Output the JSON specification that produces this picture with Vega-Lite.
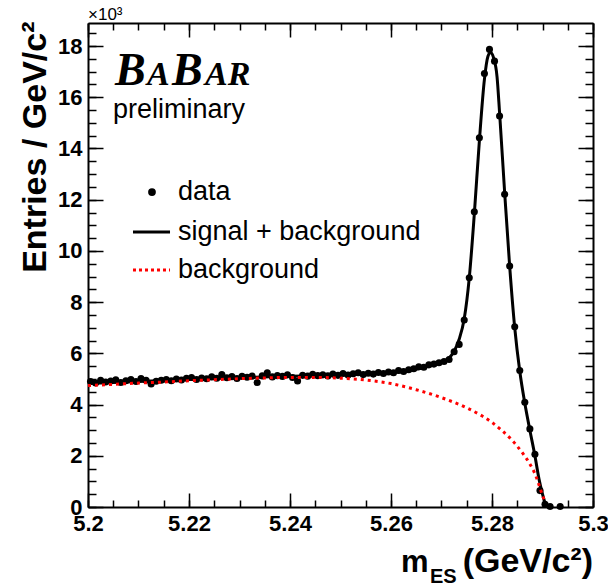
{
  "$schema": "https://vega.github.io/schema/vega-lite/v6.json",
  "width": 505,
  "height": 484,
  "autosize": "none",
  "padding": {"left": 88, "top": 23, "right": 15, "bottom": 81},
  "background": "white",
  "config": {
    "view": {"stroke": null},
    "axis": {"grid": false, "tickColor": "black", "domainColor": "black", "labelColor": "black", "titleColor": "black"}
  },
  "datasets": {
    "points": [
      {"m": 5.2005, "n": 4.90}, {"m": 5.2015, "n": 4.84}, {"m": 5.2025, "n": 4.95}, {"m": 5.2035, "n": 4.88},
      {"m": 5.2045, "n": 4.92}, {"m": 5.2055, "n": 4.97}, {"m": 5.2065, "n": 4.86}, {"m": 5.2075, "n": 4.93},
      {"m": 5.2085, "n": 4.98}, {"m": 5.2095, "n": 4.90}, {"m": 5.2105, "n": 5.02}, {"m": 5.2115, "n": 4.95},
      {"m": 5.2125, "n": 4.80}, {"m": 5.2135, "n": 4.91}, {"m": 5.2145, "n": 4.95}, {"m": 5.2155, "n": 4.98},
      {"m": 5.2165, "n": 4.93}, {"m": 5.2175, "n": 5.00}, {"m": 5.2185, "n": 4.96}, {"m": 5.2195, "n": 5.03},
      {"m": 5.2205, "n": 5.06}, {"m": 5.2215, "n": 4.98}, {"m": 5.2225, "n": 5.04}, {"m": 5.2235, "n": 5.01},
      {"m": 5.2245, "n": 5.08}, {"m": 5.2255, "n": 5.03}, {"m": 5.2265, "n": 5.17}, {"m": 5.2275, "n": 5.05},
      {"m": 5.2285, "n": 5.09}, {"m": 5.2295, "n": 5.02}, {"m": 5.2305, "n": 5.10}, {"m": 5.2315, "n": 5.07},
      {"m": 5.2325, "n": 5.11}, {"m": 5.2335, "n": 4.86}, {"m": 5.2345, "n": 5.12}, {"m": 5.2355, "n": 5.24},
      {"m": 5.2365, "n": 5.08}, {"m": 5.2375, "n": 5.13}, {"m": 5.2385, "n": 5.10}, {"m": 5.2395, "n": 5.16},
      {"m": 5.2405, "n": 5.06}, {"m": 5.2415, "n": 4.92}, {"m": 5.2425, "n": 5.14}, {"m": 5.2435, "n": 5.11},
      {"m": 5.2445, "n": 5.18}, {"m": 5.2455, "n": 5.13}, {"m": 5.2465, "n": 5.16}, {"m": 5.2475, "n": 5.12},
      {"m": 5.2485, "n": 5.19}, {"m": 5.2495, "n": 5.14}, {"m": 5.2505, "n": 5.21}, {"m": 5.2515, "n": 5.15},
      {"m": 5.2525, "n": 5.20}, {"m": 5.2535, "n": 5.24}, {"m": 5.2545, "n": 5.17}, {"m": 5.2555, "n": 5.22},
      {"m": 5.2565, "n": 5.19}, {"m": 5.2575, "n": 5.25}, {"m": 5.2585, "n": 5.21}, {"m": 5.2595, "n": 5.27},
      {"m": 5.2605, "n": 5.24}, {"m": 5.2615, "n": 5.33}, {"m": 5.2625, "n": 5.29}, {"m": 5.2635, "n": 5.36},
      {"m": 5.2645, "n": 5.40}, {"m": 5.2655, "n": 5.48}, {"m": 5.2665, "n": 5.46}, {"m": 5.2675, "n": 5.55},
      {"m": 5.2685, "n": 5.58}, {"m": 5.2695, "n": 5.63}, {"m": 5.2705, "n": 5.68}, {"m": 5.2715, "n": 5.76},
      {"m": 5.2725, "n": 6.06}, {"m": 5.2735, "n": 6.35}, {"m": 5.2745, "n": 7.30}, {"m": 5.2755, "n": 8.95},
      {"m": 5.2765, "n": 11.53}, {"m": 5.2775, "n": 14.42}, {"m": 5.2785, "n": 16.93}, {"m": 5.2795, "n": 17.87},
      {"m": 5.2805, "n": 17.41}, {"m": 5.2815, "n": 15.27}, {"m": 5.2825, "n": 12.21}, {"m": 5.2835, "n": 9.41},
      {"m": 5.2845, "n": 7.04}, {"m": 5.2855, "n": 5.33}, {"m": 5.2865, "n": 4.09}, {"m": 5.2875, "n": 3.05},
      {"m": 5.2885, "n": 2.06}, {"m": 5.2895, "n": 0.64}, {"m": 5.2905, "n": 0.11}, {"m": 5.2915, "n": 0.02},
      {"m": 5.2935, "n": 0.02}
    ],
    "fit": [
      {"m": 5.2000, "n": 4.82}, {"m": 5.2050, "n": 4.86}, {"m": 5.2100, "n": 4.90}, {"m": 5.2150, "n": 4.94},
      {"m": 5.2200, "n": 4.98}, {"m": 5.2250, "n": 5.02}, {"m": 5.2300, "n": 5.05}, {"m": 5.2350, "n": 5.08},
      {"m": 5.2400, "n": 5.11}, {"m": 5.2450, "n": 5.13}, {"m": 5.2500, "n": 5.16}, {"m": 5.2550, "n": 5.19},
      {"m": 5.2600, "n": 5.25}, {"m": 5.2630, "n": 5.31}, {"m": 5.2660, "n": 5.42}, {"m": 5.2680, "n": 5.52},
      {"m": 5.2700, "n": 5.65}, {"m": 5.2715, "n": 5.82}, {"m": 5.2725, "n": 6.08}, {"m": 5.2735, "n": 6.55},
      {"m": 5.2745, "n": 7.35}, {"m": 5.2755, "n": 8.95}, {"m": 5.2765, "n": 11.45}, {"m": 5.2775, "n": 14.3},
      {"m": 5.2785, "n": 16.7}, {"m": 5.2792, "n": 17.6}, {"m": 5.2797, "n": 17.75}, {"m": 5.2803, "n": 17.55},
      {"m": 5.2810, "n": 16.8}, {"m": 5.2815, "n": 15.4}, {"m": 5.2825, "n": 12.3}, {"m": 5.2835, "n": 9.4},
      {"m": 5.2845, "n": 7.0}, {"m": 5.2855, "n": 5.3}, {"m": 5.2865, "n": 4.05}, {"m": 5.2875, "n": 3.0},
      {"m": 5.2885, "n": 2.0}, {"m": 5.2893, "n": 1.1}, {"m": 5.2900, "n": 0.5}, {"m": 5.2905, "n": 0.15}
    ],
    "bkg": [
      {"m": 5.2000, "n": 4.74}, {"m": 5.2050, "n": 4.79}, {"m": 5.2100, "n": 4.84}, {"m": 5.2150, "n": 4.88},
      {"m": 5.2200, "n": 4.93}, {"m": 5.2250, "n": 4.97}, {"m": 5.2300, "n": 5.01}, {"m": 5.2350, "n": 5.04},
      {"m": 5.2400, "n": 5.06}, {"m": 5.2450, "n": 5.06}, {"m": 5.2500, "n": 5.03}, {"m": 5.2550, "n": 4.96},
      {"m": 5.2600, "n": 4.82}, {"m": 5.2650, "n": 4.58}, {"m": 5.2700, "n": 4.27}, {"m": 5.2750, "n": 3.87},
      {"m": 5.2780, "n": 3.56}, {"m": 5.2800, "n": 3.30}, {"m": 5.2820, "n": 2.98}, {"m": 5.2840, "n": 2.60},
      {"m": 5.2860, "n": 2.12}, {"m": 5.2875, "n": 1.68}, {"m": 5.2885, "n": 1.30}, {"m": 5.2895, "n": 0.75},
      {"m": 5.2900, "n": 0.45}, {"m": 5.2904, "n": 0.25}
    ],
    "expo": [{"t": "×10³", "m": 5.2, "n": 19.02}],
    "babarBig": [{"t": "B", "m": 5.20535, "n": 16.48}, {"t": "B", "m": 5.21663, "n": 16.48}],
    "babarSmall": [{"t": "A", "m": 5.21168, "n": 16.48}, {"t": "AR", "m": 5.22317, "n": 16.48}],
    "prelim": [{"t": "preliminary", "m": 5.20495, "n": 15.19}],
    "legendDot": [{"m": 5.21267, "n": 12.30}],
    "legendFit": [{"m": 5.20891, "m2": 5.21624, "n": 10.74}],
    "legendBkg": [{"m": 5.20891, "m2": 5.21624, "n": 9.25}],
    "legendText": [
      {"t": "data", "m": 5.21782, "n": 12.30},
      {"t": "signal + background", "m": 5.21782, "n": 10.74},
      {"t": "background", "m": 5.21782, "n": 9.25}
    ],
    "xtitleM": [{"t": "m", "m": 5.26198, "n": -2.53}],
    "xtitleUnit": [{"t": "(GeV/c²)", "m": 5.3, "n": -2.53}],
    "xtitleSub": [{"t": "ES", "m": 5.26772, "n": -2.98}]
  },
  "resolve": {"axis": {"x": "independent", "y": "independent"}},
  "layer": [
    {
      "data": {"name": "points"},
      "mark": {"type": "point", "filled": true, "size": 50, "opacity": 1, "color": "black"},
      "encoding": {
        "x": {
          "field": "m", "type": "quantitative",
          "scale": {"domain": [5.2, 5.3], "nice": false, "zero": false},
          "axis": {
            "orient": "bottom", "values": [5.2, 5.22, 5.24, 5.26, 5.28, 5.3], "format": "~g",
            "tickSize": -14, "tickWidth": 1.5, "domain": true, "domainWidth": 2,
            "labelFont": "Liberation Sans", "labelFontWeight": "bold", "labelFontSize": 22,
            "labelPadding": 20, "labelFlush": false, "labelOverlap": false, "title": null
          }
        },
        "y": {
          "field": "n", "type": "quantitative",
          "scale": {"domain": [0, 18.9], "nice": false, "zero": false},
          "axis": {
            "orient": "left", "values": [0, 2, 4, 6, 8, 10, 12, 14, 16, 18],
            "tickSize": -15, "tickWidth": 1.5, "domain": true, "domainWidth": 2,
            "labelFont": "Liberation Sans", "labelFontWeight": "bold", "labelFontSize": 22,
            "labelPadding": 21, "labelOverlap": false, "labelFlush": false,
            "title": "Entries / GeV/c²", "titleFont": "Liberation Sans", "titleFontWeight": "bold",
            "titleFontSize": 34, "titleAngle": -90, "titleAlign": "right", "titleBaseline": "alphabetic",
            "titleX": -43, "titleY": -2
          }
        }
      }
    },
    {
      "data": {"name": "fit"},
      "mark": {"type": "line", "strokeWidth": 3, "interpolate": "monotone", "color": "black"},
      "encoding": {
        "x": {
          "field": "m", "type": "quantitative",
          "scale": {"domain": [5.2, 5.3], "nice": false, "zero": false},
          "axis": {
            "orient": "bottom",
            "values": [5.2, 5.205, 5.21, 5.215, 5.22, 5.225, 5.23, 5.235, 5.24, 5.245, 5.25, 5.255, 5.26, 5.265, 5.27, 5.275, 5.28, 5.285, 5.29, 5.295, 5.3],
            "tickSize": -7, "tickWidth": 1.5, "domain": false, "labels": false, "title": null
          }
        },
        "y": {
          "field": "n", "type": "quantitative",
          "scale": {"domain": [0, 18.9], "nice": false, "zero": false},
          "axis": {
            "orient": "left",
            "values": [0, 0.5, 1, 1.5, 2, 2.5, 3, 3.5, 4, 4.5, 5, 5.5, 6, 6.5, 7, 7.5, 8, 8.5, 9, 9.5, 10, 10.5, 11, 11.5, 12, 12.5, 13, 13.5, 14, 14.5, 15, 15.5, 16, 16.5, 17, 17.5, 18, 18.5],
            "tickSize": -8, "tickWidth": 1.5, "domain": false, "labels": false, "title": null
          }
        }
      }
    },
    {
      "data": {"name": "bkg"},
      "mark": {"type": "line", "strokeWidth": 3, "strokeDash": [3, 4], "interpolate": "monotone", "color": "#ff0000"},
      "encoding": {
        "x": {
          "field": "m", "type": "quantitative",
          "scale": {"domain": [5.2, 5.3], "nice": false, "zero": false},
          "axis": {
            "orient": "top", "values": [5.2, 5.22, 5.24, 5.26, 5.28, 5.3],
            "tickSize": -14, "tickWidth": 1.5, "domain": true, "domainWidth": 2, "labels": false, "title": null
          }
        },
        "y": {
          "field": "n", "type": "quantitative",
          "scale": {"domain": [0, 18.9], "nice": false, "zero": false},
          "axis": {
            "orient": "right", "values": [0, 2, 4, 6, 8, 10, 12, 14, 16, 18],
            "tickSize": -15, "tickWidth": 1.5, "domain": true, "domainWidth": 2, "labels": false, "title": null
          }
        }
      }
    },
    {
      "data": {"name": "expo"},
      "mark": {"type": "text", "font": "Liberation Sans", "fontSize": 17, "align": "left", "baseline": "alphabetic", "color": "black"},
      "encoding": {
        "text": {"field": "t"},
        "x": {
          "field": "m", "type": "quantitative",
          "scale": {"domain": [5.2, 5.3], "nice": false, "zero": false},
          "axis": {
            "orient": "top",
            "values": [5.2, 5.205, 5.21, 5.215, 5.22, 5.225, 5.23, 5.235, 5.24, 5.245, 5.25, 5.255, 5.26, 5.265, 5.27, 5.275, 5.28, 5.285, 5.29, 5.295, 5.3],
            "tickSize": -7, "tickWidth": 1.5, "domain": false, "labels": false, "title": null
          }
        },
        "y": {
          "field": "n", "type": "quantitative",
          "scale": {"domain": [0, 18.9], "nice": false, "zero": false},
          "axis": {
            "orient": "right",
            "values": [0, 0.5, 1, 1.5, 2, 2.5, 3, 3.5, 4, 4.5, 5, 5.5, 6, 6.5, 7, 7.5, 8, 8.5, 9, 9.5, 10, 10.5, 11, 11.5, 12, 12.5, 13, 13.5, 14, 14.5, 15, 15.5, 16, 16.5, 17, 17.5, 18, 18.5],
            "tickSize": -8, "tickWidth": 1.5, "domain": false, "labels": false, "title": null
          }
        }
      }
    },
    {
      "data": {"name": "babarBig"},
      "mark": {"type": "text", "font": "Liberation Serif", "fontStyle": "italic", "fontWeight": "bold", "fontSize": 46, "align": "left", "baseline": "alphabetic", "color": "black"},
      "encoding": {
        "text": {"field": "t"},
        "x": {"field": "m", "type": "quantitative", "axis": null},
        "y": {"field": "n", "type": "quantitative", "axis": null}
      }
    },
    {
      "data": {"name": "babarSmall"},
      "mark": {"type": "text", "font": "Liberation Serif", "fontStyle": "italic", "fontWeight": "bold", "fontSize": 34, "align": "left", "baseline": "alphabetic", "color": "black"},
      "encoding": {
        "text": {"field": "t"},
        "x": {"field": "m", "type": "quantitative", "axis": null},
        "y": {"field": "n", "type": "quantitative", "axis": null}
      }
    },
    {
      "data": {"name": "prelim"},
      "mark": {"type": "text", "font": "Liberation Sans", "fontSize": 27, "align": "left", "baseline": "alphabetic", "color": "black"},
      "encoding": {
        "text": {"field": "t"},
        "x": {"field": "m", "type": "quantitative", "axis": null},
        "y": {"field": "n", "type": "quantitative", "axis": null}
      }
    },
    {
      "data": {"name": "legendDot"},
      "mark": {"type": "point", "filled": true, "size": 60, "opacity": 1, "color": "black"},
      "encoding": {
        "x": {"field": "m", "type": "quantitative", "axis": null},
        "y": {"field": "n", "type": "quantitative", "axis": null}
      }
    },
    {
      "data": {"name": "legendFit"},
      "mark": {"type": "rule", "strokeWidth": 3, "color": "black"},
      "encoding": {
        "x": {"field": "m", "type": "quantitative", "axis": null},
        "x2": {"field": "m2"},
        "y": {"field": "n", "type": "quantitative", "axis": null}
      }
    },
    {
      "data": {"name": "legendBkg"},
      "mark": {"type": "rule", "strokeWidth": 3, "strokeDash": [3, 3], "color": "#ff0000"},
      "encoding": {
        "x": {"field": "m", "type": "quantitative", "axis": null},
        "x2": {"field": "m2"},
        "y": {"field": "n", "type": "quantitative", "axis": null}
      }
    },
    {
      "data": {"name": "legendText"},
      "mark": {"type": "text", "font": "Liberation Sans", "fontSize": 27, "align": "left", "baseline": "middle", "color": "black"},
      "encoding": {
        "text": {"field": "t"},
        "x": {"field": "m", "type": "quantitative", "axis": null},
        "y": {"field": "n", "type": "quantitative", "axis": null}
      }
    },
    {
      "data": {"name": "xtitleM"},
      "mark": {"type": "text", "font": "Liberation Sans", "fontWeight": "bold", "fontSize": 31, "align": "left", "baseline": "alphabetic", "color": "black"},
      "encoding": {
        "text": {"field": "t"},
        "x": {"field": "m", "type": "quantitative", "axis": null},
        "y": {"field": "n", "type": "quantitative", "axis": null}
      }
    },
    {
      "data": {"name": "xtitleUnit"},
      "mark": {"type": "text", "font": "Liberation Sans", "fontWeight": "bold", "fontSize": 34, "align": "right", "baseline": "alphabetic", "color": "black"},
      "encoding": {
        "text": {"field": "t"},
        "x": {"field": "m", "type": "quantitative", "axis": null},
        "y": {"field": "n", "type": "quantitative", "axis": null}
      }
    },
    {
      "data": {"name": "xtitleSub"},
      "mark": {"type": "text", "font": "Liberation Sans", "fontWeight": "bold", "fontSize": 20, "align": "left", "baseline": "alphabetic", "color": "black"},
      "encoding": {
        "text": {"field": "t"},
        "x": {"field": "m", "type": "quantitative", "axis": null},
        "y": {"field": "n", "type": "quantitative", "axis": null}
      }
    }
  ]
}
